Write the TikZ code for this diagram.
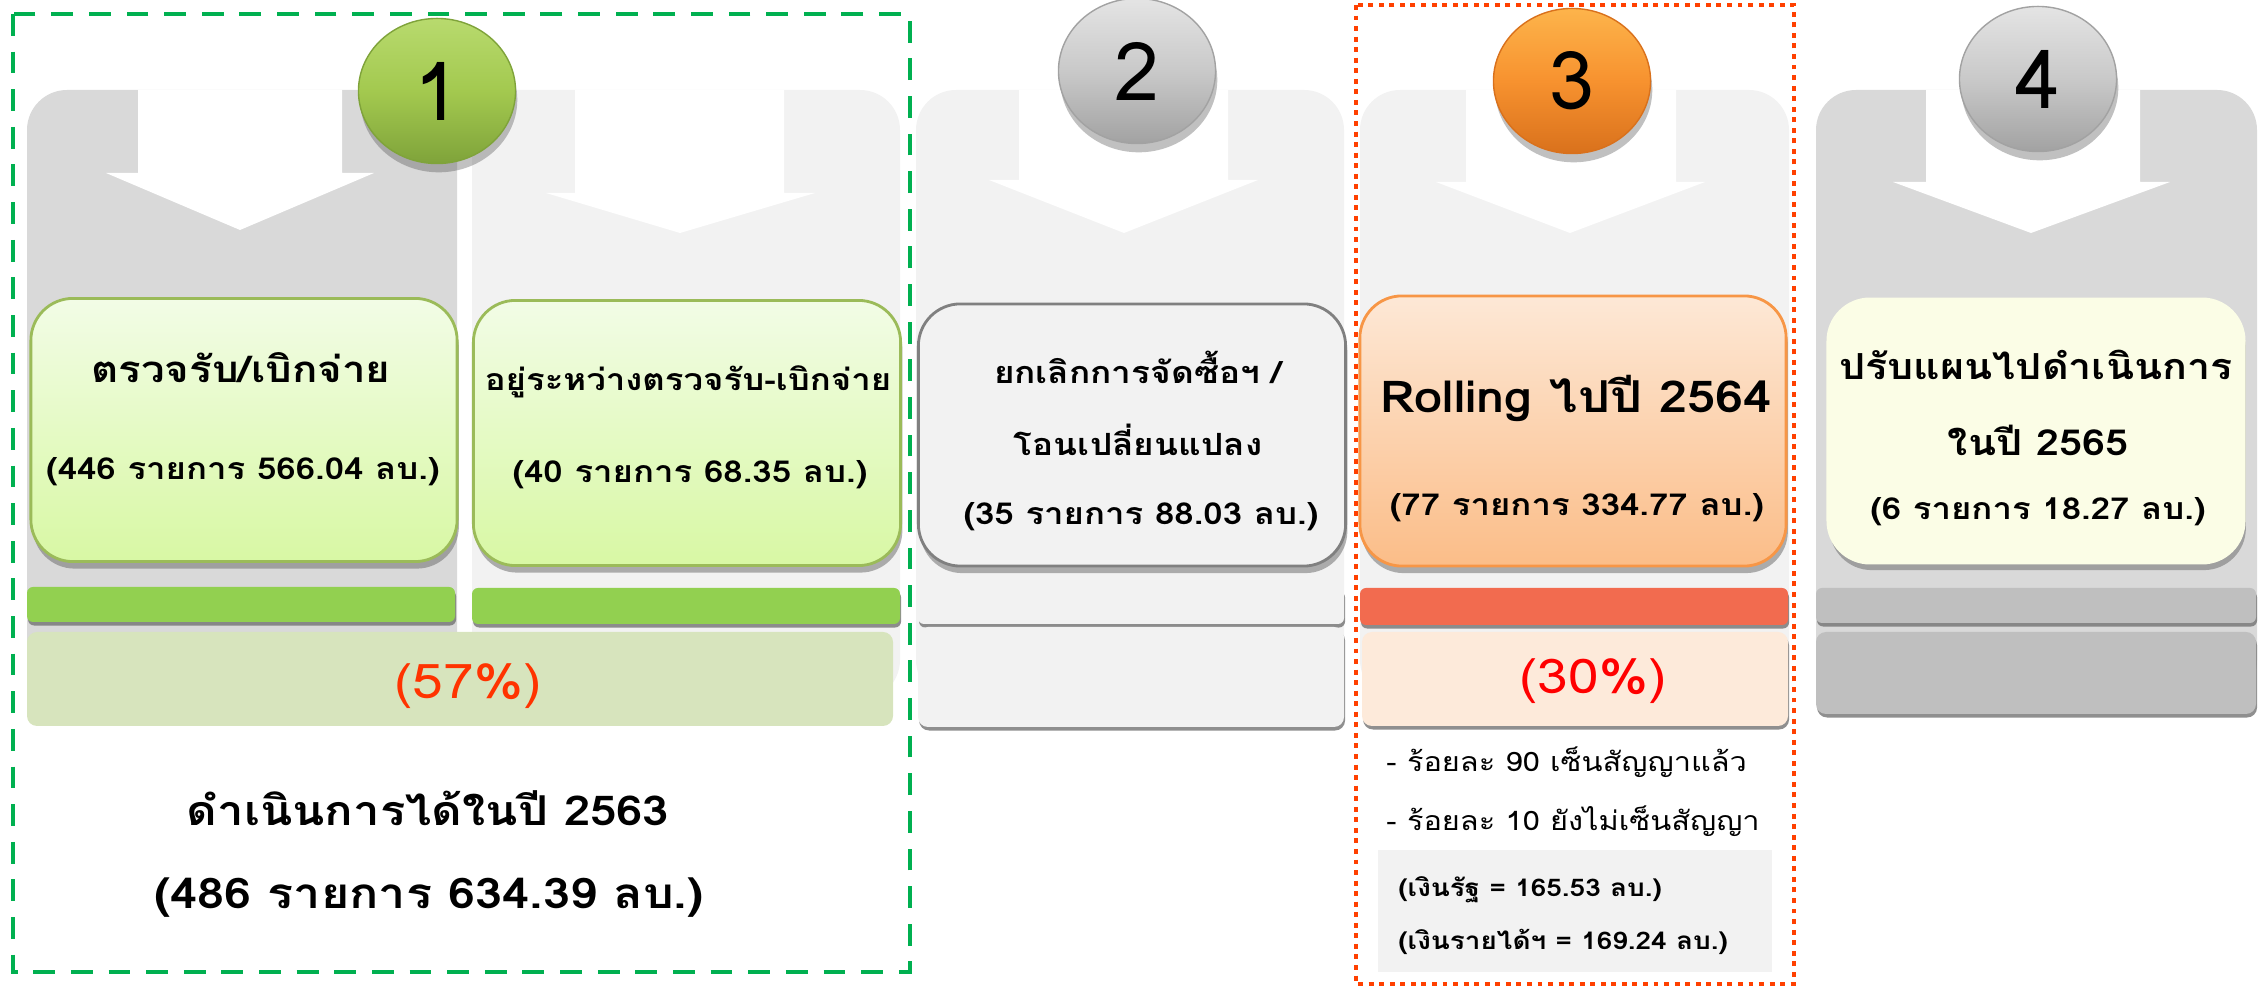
\documentclass[tikz,border=0pt]{standalone}
\usepackage{fontspec}
\setmainfont[Script=Thai, FakeStretch=1.15]{Loma}
\newfontfamily\numfont[Script=Thai]{Loma}
\usetikzlibrary{positioning,shapes.geometric,shadows}

\definecolor{dgray}{HTML}{D9D9D9}
\definecolor{lgray}{HTML}{F2F2F2}
\definecolor{mgray}{HTML}{BFBFBF}
\definecolor{dashgreen}{HTML}{00B050}
\definecolor{dotred}{HTML}{FF4000}
\definecolor{okgreen}{HTML}{92D050}
\definecolor{boxgreen}{HTML}{9BBB59}
\definecolor{gtop}{HTML}{F2FCE6}
\definecolor{gbot}{HTML}{D8F8A4}
\definecolor{otop}{HTML}{FDE8D6}
\definecolor{obot}{HTML}{FBBD88}
\definecolor{pctgreen}{HTML}{D7E4BD}
\definecolor{barred}{HTML}{F26B4F}
\definecolor{boxorange}{HTML}{F79646}
\definecolor{pctorange}{HTML}{FDEADA}
\definecolor{boxyellow}{HTML}{FBFDE6}
\definecolor{pcttext}{HTML}{FF3300}
\definecolor{c1top}{HTML}{B8DA6E}
\definecolor{c1mid}{HTML}{A3C94F}
\definecolor{c1bot}{HTML}{7FA33A}
\definecolor{c2top}{HTML}{E4E4E4}
\definecolor{c2mid}{HTML}{C9C9C9}
\definecolor{c2bot}{HTML}{A2A2A2}
\definecolor{c3top}{HTML}{FDB44B}
\definecolor{c3mid}{HTML}{F7922F}
\definecolor{c3bot}{HTML}{D9711C}

\begin{document}
\begin{tikzpicture}
[x=0.01cm, y=-0.01cm,
 panel/.style={rounded corners=0.4cm},
 bar/.style={rounded corners=0.06cm, drop shadow={shadow xshift=0.3pt, shadow yshift=-1pt, fill=black!55, opacity=.8}},
 low/.style={rounded corners=0.1cm, drop shadow={shadow xshift=0.3pt, shadow yshift=-1pt, fill=black!55, opacity=.8}},
 stagebox/.style={rounded corners=0.42cm, line width=0.8pt, drop shadow={shadow xshift=0.5pt, shadow yshift=-2pt, fill=black!60, opacity=.5}},
 num/.style={ellipse, minimum width=1.57cm, minimum height=1.45cm, line width=0.4pt, font=\numfont\fontsize{23}{26}\selectfont, drop shadow={shadow xshift=0.5pt, shadow yshift=-2.5pt, fill=black!70, opacity=.35}},
 ttl/.style={font=\bfseries\fontsize{10}{12}\selectfont, align=center},
 cnt/.style={font=\bfseries\fontsize{8.6}{10}\selectfont},
 pct/.style={font=\fontsize{13.6}{16}\selectfont},
 big/.style={font=\bfseries\fontsize{12}{15}\selectfont},
 note/.style={font=\fontsize{7.6}{9}\selectfont, anchor=west},
 money/.style={font=\bfseries\fontsize{6.9}{8}\selectfont, anchor=west}]

\useasboundingbox (0,0) rectangle (2260,986);

% gray columns
\fill[dgray, panel] (27,90) rectangle (457,700);
\fill[lgray, panel] (472,90) rectangle (900,700);
\fill[lgray, panel] (916,90) rectangle (1344,700);
\fill[lgray, panel] (1360,90) rectangle (1789,700);
\fill[dgray, panel] (1816,90) rectangle (2257,700);

% white arrows
\fill[white] (138,90) -- (342,90) -- (342,173) -- (374,173) -- (240,230) -- (106,173) -- (138,173) -- cycle;
\fill[white] (575,90) -- (784,90) -- (784,193) -- (815,193) -- (680,233) -- (546,193) -- (575,193) -- cycle;
\fill[white] (1019,90) -- (1228,90) -- (1228,180) -- (1258,180) -- (1124,233) -- (989,180) -- (1019,180) -- cycle;
\fill[white] (1466,90) -- (1676,90) -- (1676,182) -- (1705,182) -- (1570,233) -- (1436,182) -- (1466,182) -- cycle;
\fill[white] (1926,90) -- (2140,90) -- (2140,182) -- (2170,182) -- (2031,233) -- (1893,182) -- (1926,182) -- cycle;

% stage boxes
\node (b1) [stagebox, draw=boxgreen, top color=gtop, bottom color=gbot, minimum width=4.26cm, minimum height=2.63cm] at (244,430) {};
\node (b2) [stagebox, draw=boxgreen, top color=gtop, bottom color=gbot, minimum width=4.27cm, minimum height=2.65cm] at (687,433) {};
\node (b3) [stagebox, draw=black!50, fill=lgray, minimum width=4.27cm, minimum height=2.62cm] at (1132,435) {};
\node (b4) [stagebox, draw=boxorange, top color=otop, bottom color=obot, minimum width=4.26cm, minimum height=2.70cm] at (1573,431) {};
\node (b5) [stagebox, draw=boxyellow, fill=boxyellow, minimum width=4.16cm, minimum height=2.64cm] at (2036,431) {};

\node (t1) [ttl, font=\bfseries\fontsize{10.4}{12}\selectfont] at (241,368) {ตรวจรับ/เบิกจ่าย};
\node (c1) [cnt] at (243,472) {(446 รายการ 566.04 ลบ.)};
\node (t2) [ttl, font=\bfseries\fontsize{8.6}{10}\selectfont] at (688,382) {อยู่ระหว่างตรวจรับ-เบิกจ่าย};
\node (c2) [cnt] at (690,475) {(40 รายการ 68.35 ลบ.)};
\node (t3) [ttl, font=\bfseries\fontsize{8.7}{10}\selectfont] at (1138,367) {ยกเลิกการจัดซื้อฯ /};
\node (t3b) [ttl, font=\bfseries\fontsize{8.7}{10}\selectfont] at (1138,440) {โอนเปลี่ยนแปลง};
\node (c3) [cnt] at (1141,517) {(35 รายการ 88.03 ลบ.)};
\node (t4) [big, font=\bfseries\fontsize{12.5}{15}\selectfont] at (1576,398) {Rolling ไปปี 2564};
\node (c4) [cnt] at (1577,508) {(77 รายการ 334.77 ลบ.)};
\node (t5) [ttl, font=\bfseries\fontsize{10.2}{12}\selectfont] at (2036,365) {ปรับแผนไปดำเนินการ};
\node (t5b) [ttl, font=\bfseries\fontsize{10.2}{12}\selectfont] at (2038,440) {ในปี 2565};
\node (c5) [cnt] at (2038,512) {(6 รายการ 18.27 ลบ.)};

% bars
\fill[okgreen, bar] (27,587) rectangle (455,622);
\fill[okgreen, bar] (472,588) rectangle (900,624);
\fill[lgray, bar] (918,588) rectangle (1344,624);
\fill[barred, bar] (1360,588) rectangle (1788,625);
\fill[mgray, bar] (1816,588) rectangle (2256,623);

% lower boxes
\fill[pctgreen, rounded corners=0.1cm] (27,632) rectangle (893,726);
\fill[lgray, low] (918,627) rectangle (1344,727);
\fill[pctorange, low] (1362,632) rectangle (1788,726);
\fill[mgray, low] (1816,632) rectangle (2256,714);

\node (p1) [pct, text=pcttext] at (468,686) {(57\%)};
\node (p3) [pct, text=red] at (1593,681) {(30\%)};

\node (d1) [big, font=\bfseries\fontsize{11.7}{15}\selectfont] at (428,808) {ดำเนินการได้ในปี 2563};
\node (d2) [big] at (429,898) {(486 รายการ 634.39 ลบ.)};

% notes under 3
\node (r1) [note] at (1374,762) {- ร้อยละ 90 เซ็นสัญญาแล้ว};
\node (r2) [note] at (1374,821) {- ร้อยละ 10 ยังไม่เซ็นสัญญา};
\fill[lgray] (1378,850) rectangle (1772,972);
\node (m1) [money] at (1386,890) {(เงินรัฐ = 165.53 ลบ.)};
\node (m2) [money] at (1386,942) {(เงินรายได้ฯ = 169.24 ลบ.)};

% numbers
\node (n1) [num, draw=c1bot, top color=c1top, bottom color=c1bot, middle color=c1mid] at (437,91) {1};
\node (n2) [num, draw=c2bot, top color=c2top, bottom color=c2bot, middle color=c2mid] at (1137,71) {2};
\node (n3) [num, draw=c3bot, top color=c3top, bottom color=c3bot, middle color=c3mid] at (1572,81) {3};
\node (n4) [num, draw=c2bot, top color=c2top, bottom color=c2bot, middle color=c2mid] at (2038,79) {4};

% frames
\draw[dashgreen, line width=1.15pt, dash pattern=on 6.2pt off 4.5pt] (13,14) rectangle (910,972);
\draw[dotred, line width=1.4pt, dash pattern=on 1.4pt off 1.6pt] (1356,5) rectangle (1794,984);
\end{tikzpicture}
\end{document}
